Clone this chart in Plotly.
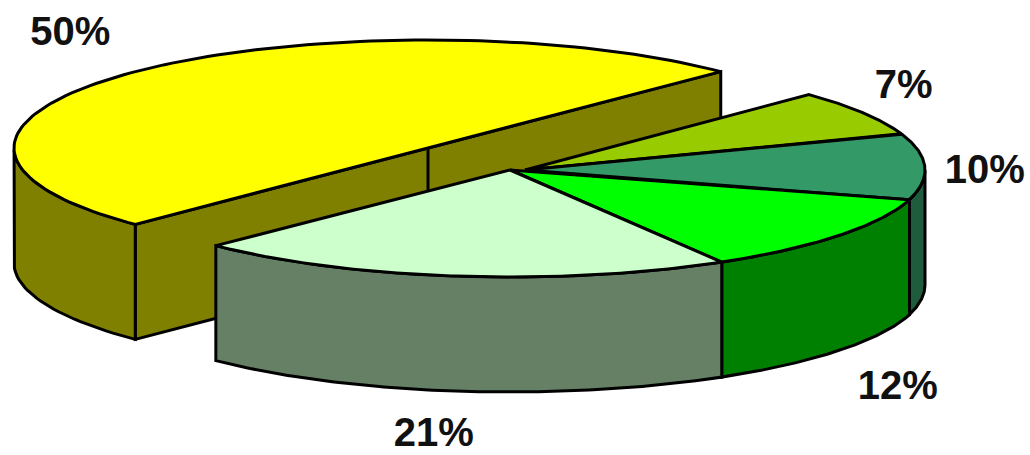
import numpy as np
import plotly.graph_objects as go

# Shares of the pie, in clockwise order from the lower-left edge of the largest slice
shares = [50, 7, 10, 12, 21]
top_colors = ["#FFFF00", "#99CC00", "#339966", "#00FF00", "#CCFFCC"]
wall_colors = ["#808000", "#5C7A00", "#1F5C3D", "#008000", "#668066"]

# Projection of each exploded slice: tilted ellipse centre and semi-axes, in pixels
centers_x = [428, 525, 525, 510, 510]
centers_y = [148, 170, 170, 170, 170]
radii_x = [414, 400, 400, 416, 416]
radii_y = [108, 107, 107, 107, 107]
DEPTH = 115
START_ANGLE = 225
OUTLINE = 3

# Label displacement from the midpoint of each slice's rim
label_dx = [-65, 41, 60, 59, -24]
label_dy = [-37, -25, 6, 153, 160]


def rim(i, angles):
    t = np.radians(angles)
    return centers_x[i] + radii_x[i] * np.cos(t), centers_y[i] - radii_y[i] * np.sin(t)


def polygon(fig, xs, ys, fill):
    fig.add_trace(go.Scatter(
        x=list(xs) + [xs[0]], y=list(ys) + [ys[0]], mode="lines", fill="toself",
        fillcolor=fill, line=dict(color="black", width=OUTLINE),
        hoverinfo="skip", showlegend=False,
    ))


fig = go.Figure()

# Turn the shares into angular spans, running clockwise
spans = []
angle = START_ANGLE
for share in shares:
    spans.append((angle, angle - 360 * share / 100))
    angle = spans[-1][1]

for i, (a0, a1) in enumerate(spans):
    angles = np.linspace(a0, a1, 120)
    rx, ry = rim(i, angles)

    # The half-pie shows its cut face behind the other slices
    if shares[i] == max(shares):
        xs = [rx[0], centers_x[i], rx[-1], rx[-1], centers_x[i], rx[0]]
        ys = [ry[0], centers_y[i], ry[-1], ry[-1] + DEPTH, centers_y[i] + DEPTH, ry[0] + DEPTH]
        polygon(fig, xs, ys, wall_colors[i])

    # Outer wall, only where the rim faces the viewer
    front = np.sin(np.radians(angles)) <= 1e-9
    if front.any():
        fx, fy = rx[front], ry[front]
        polygon(fig, np.r_[fx, fx[::-1]], np.r_[fy, (fy + DEPTH)[::-1]], wall_colors[i])

    # Top face
    polygon(fig, np.r_[centers_x[i], rx], np.r_[centers_y[i], ry], top_colors[i])

    # Seam down the cut face at the pie's centre; later slices cover its lower part
    if shares[i] == max(shares):
        fig.add_trace(go.Scatter(
            x=[centers_x[i], centers_x[i]], y=[centers_y[i], centers_y[i] + DEPTH],
            mode="lines", line=dict(color="black", width=OUTLINE),
            hoverinfo="skip", showlegend=False,
        ))

# Percentage labels placed from each slice's mid-angle
label_x, label_y = [], []
for i, (a0, a1) in enumerate(spans):
    mx, my = rim(i, np.array([(a0 + a1) / 2]))
    label_x.append(float(mx[0]) + label_dx[i])
    label_y.append(float(my[0]) + label_dy[i])

fig.add_trace(go.Scatter(
    x=label_x, y=label_y, mode="text", text=[f"{s}%" for s in shares],
    textposition="middle center", cliponaxis=False,
    textfont=dict(family="Liberation Sans", size=40, color="#111111", weight="bold"),
    hoverinfo="skip", showlegend=False,
))

fig.update_layout(
    width=1030, height=455, autosize=False,
    margin=dict(l=0, r=0, t=0, b=0),
    paper_bgcolor="white", plot_bgcolor="white",
    xaxis=dict(range=[0, 1030], visible=False, fixedrange=True),
    yaxis=dict(range=[455, 0], visible=False, fixedrange=True),
)

fig.write_html("out.html", config=dict(displayModeBar=False))
